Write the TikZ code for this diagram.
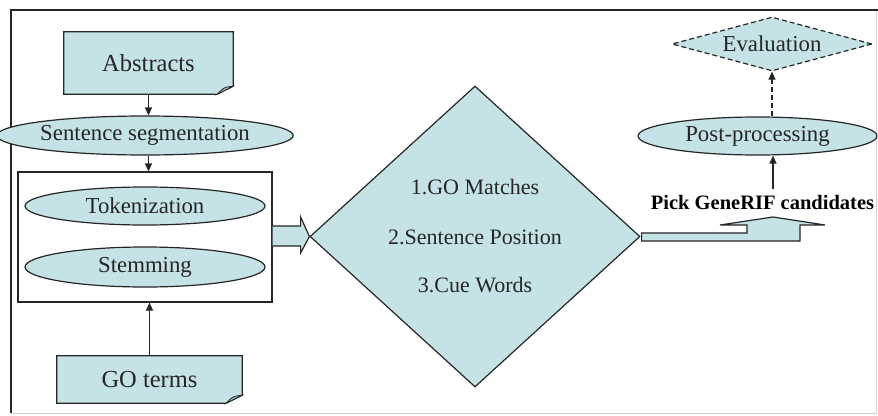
\documentclass[tikz,border=0pt]{standalone}
\usepackage{fontspec}
\setmainfont{Liberation Serif}
\usetikzlibrary{shapes.geometric,arrows.meta,calc}
\definecolor{boxfill}{RGB}{197,226,230}
\definecolor{foldfill}{RGB}{165,195,200}
\definecolor{ink}{RGB}{38,38,38}
\pgfdeclarelayer{bg}
\pgfsetlayers{bg,main}
\begin{document}
\begin{tikzpicture}[x=1pt,y=-1pt,
 base/.style={draw=ink,line width=1.2pt,fill=boxfill,inner sep=0pt,text=ink},
 ell/.style={base,ellipse,minimum width=240pt,minimum height=39pt,font=\fontsize{22.8}{26}\selectfont},
 arr/.style={draw=ink,line width=1.2pt,-{Triangle[length=8pt,width=7pt]}},
 doc/.style={inner sep=0pt,font=\fontsize{24.5}{28}\selectfont,text=ink},
 lab/.style={inner sep=0pt,text=ink,font=\fontsize{22}{26}\selectfont},
]
\useasboundingbox (0,0) rectangle (878,415);
\begin{pgfonlayer}{bg}
\fill[white] (0,0) rectangle (878,415);
\end{pgfonlayer}
\draw[gray!35,line width=0.8pt] (11,10) rectangle (876,413);
\draw[ink,line width=1.2pt] (11,413) -- (11,10) -- (878,10);

% documents
\node[doc,minimum width=169pt,minimum height=62pt] (abs) at (148.5,63) {Abstracts};
\node[doc,minimum width=185pt,minimum height=47pt] (go) at (149.5,379.5) {GO terms};
\begin{pgfonlayer}{bg}
\foreach \n in {abs,go}{
 \path[base] (\n.north west) -- (\n.north east) -- ($(\n.south east)+(0,-8)$)
   -- ($(\n.south east)+(-16,0)$) -- (\n.south west) -- cycle;
 \path[base,fill=foldfill,line width=0.8pt] ($(\n.south east)+(0,-8)$)
   .. controls ($(\n.south east)+(-8,-7)$) .. ($(\n.south east)+(-12,-4)$)
   -- ($(\n.south east)+(-16,0)$) -- cycle;
}
\end{pgfonlayer}

\node[ell] (seg) at (145,135.5) {Sentence segmentation};
\node[draw=ink,line width=1.2pt,fill=white,minimum width=254pt,minimum height=130pt,inner sep=0pt] (box) at (145,237) {};
\node[ell,minimum height=38pt] (tok) at (145,206) {Tokenization};
\node[ell,minimum height=40pt] (stem) at (145,267) {Stemming};

\draw[arr] (abs.south) -- (abs.south |- seg.north);
\draw[arr] (seg.south -| abs.south) -- (abs.south |- box.north);
\draw[arr] (go.north) -- (go.north |- box.south);

% big diamond
\node[base,diamond,minimum width=330pt,minimum height=301pt] (dia) at (475,236.5) {};
\node[lab] (l1) at (475,187) {1.GO Matches};
\node[lab] (l2) at (475,237) {2.Sentence Position};
\node[lab] (l3) at (475,285) {3.Cue Words};

% block arrow box -> diamond
\path[base] ($(box.east)+(0,-11)$) -- ($(box.east)+(28,-11)$) -- ($(box.east)+(28,-20)$)
  -- (dia.west) -- ($(box.east)+(28,16)$) -- ($(box.east)+(28,9)$) -- ($(box.east)+(0,9)$);

% bent block arrow
\path[base] ($(dia.east)+(1,-3.5)$) -- (747,233) -- (747,225) -- (720,225) -- (773,217)
  -- (825,225) -- (800,225) -- (800,241) -- ($(dia.east)+(1,4.5)$) -- cycle;

\node[inner sep=0pt,anchor=base,text=black,font=\bfseries\fontsize{20.5}{24}\selectfont] (pick) at (762.5,209) {Pick GeneRIF candidates};

\node[ell,minimum width=239pt,minimum height=38pt] (post) at (757.5,136) {Post-processing};
\node[base,diamond,dashed,dash pattern=on 5pt off 3pt,aspect=3.7,minimum width=200pt,minimum height=54pt,font=\fontsize{22.8}{26}\selectfont] (eval) at (772,44) {Evaluation};

\coordinate (pk) at (773,189);
\draw[arr] (pk) -- (pk |- post.south);
\draw[arr,dashed,dash pattern=on 5pt off 3pt] (eval.south |- post.north) -- (eval.south);
\end{tikzpicture}
\end{document}
